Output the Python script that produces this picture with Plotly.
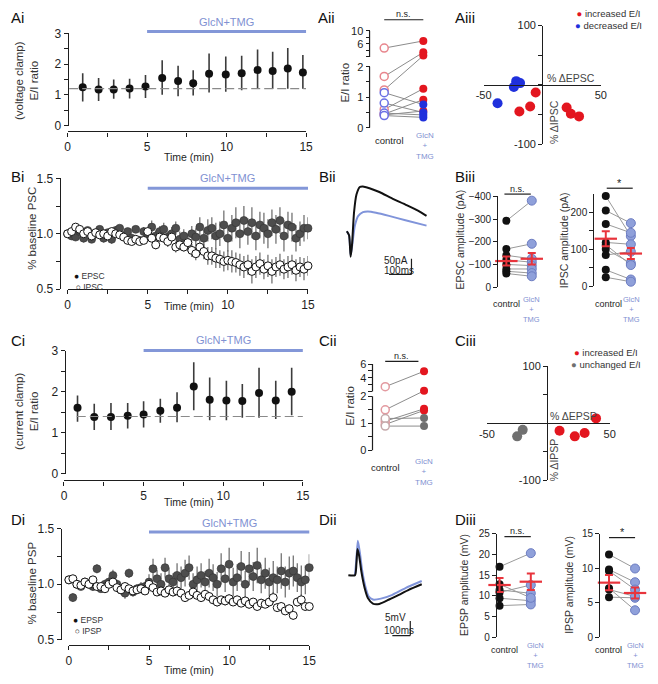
import plotly.graph_objects as go

# ---------------- data ----------------
# Ai / Ci : E/I ratio per minute (mean, upper and lower error ends)
ai_time = [0.95, 1.95, 2.9, 3.9, 4.9, 5.95, 6.95, 7.9, 8.9, 9.95, 10.95, 11.95, 12.9, 13.85, 14.8]
ai_ratio = [1.25, 1.17, 1.17, 1.21, 1.27, 1.55, 1.45, 1.38, 1.69, 1.66, 1.70, 1.81, 1.78, 1.86, 1.73]
ai_upper = [1.70, 1.55, 1.50, 1.52, 1.65, 2.13, 1.95, 1.80, 2.35, 2.25, 2.27, 2.48, 2.40, 2.53, 2.30]
ai_lower = [0.78, 0.80, 0.87, 0.88, 0.90, 1.00, 0.95, 0.98, 1.08, 1.10, 1.15, 1.20, 1.20, 1.20, 1.20]
ai_baseline = 1.2

ci_time = [0.85, 1.9, 2.95, 4.0, 5.0, 6.05, 7.1, 8.15, 9.15, 10.2, 11.2, 12.25, 13.3, 14.3, 15.3]
ci_ratio = [1.61, 1.39, 1.39, 1.42, 1.45, 1.54, 1.61, 2.13, 1.81, 1.79, 1.78, 1.97, 1.79, 2.00, 1.95]
ci_upper = [1.91, 1.71, 1.73, 1.73, 1.77, 1.83, 1.99, 2.72, 2.35, 2.27, 2.19, 2.59, 2.27, 2.59, 2.61]
ci_lower = [1.27, 1.07, 1.07, 1.11, 1.13, 1.25, 1.26, 1.55, 1.31, 1.31, 1.37, 1.37, 1.34, 1.43, 1.31]
ci_baseline = 1.4

# Aii / Cii : paired E/I ratios
aii_control = [4.7, 1.68, 1.24, 0.60, 0.45, 0.42, 1.15, 0.81, 0.48, 0.40]
aii_drug = [6.9, 3.4, 2.4, 1.28, 0.92, 0.55, 0.76, 0.50, 0.42, 0.34]
aii_group = ["inc", "inc", "inc", "inc", "inc", "inc", "dec", "dec", "dec", "dec"]

cii_control = [2.7, 1.5, 1.08, 0.96, 1.18, 0.90]
cii_drug = [4.95, 2.1, 1.54, 1.48, 1.20, 0.90]
cii_group = ["inc", "inc", "inc", "inc", "unch", "unch"]

# Aiii / Ciii : % change EPSC(P) vs IPSC(P)
aiii_inc_exc = [-5.6, -10.3, -19.5, 20.8, 24.4, 31.4]
aiii_inc_inh = [-12.9, -36.6, -44.9, -38.3, -48.8, -53.2]
aiii_dec_exc = [-22.2, -18.9, -24.2, -38.1]
aiii_dec_inh = [6.3, 3.0, -3.6, -31.1]

ciii_inc_exc = [38.9, 9.2, 21.6, 29.6]
ciii_inc_inh = [8.6, -13.2, -22.9, -17.1]
ciii_unch_exc = [-20.8, -25.3]
ciii_unch_inh = [-11.5, -22.9]

# Bi / Di : normalised PSC / PSP time courses
sweep_time = [0, 0.25, 0.5, 0.75, 1, 1.25, 1.5, 1.75,
              2, 2.25, 2.5, 2.75, 3, 3.25, 3.5, 3.75,
              4, 4.25, 4.5, 4.75, 5, 5.25, 5.5, 5.75,
              6, 6.25, 6.5, 6.75, 7, 7.25, 7.5, 7.75,
              8, 8.25, 8.5, 8.75, 9, 9.25, 9.5, 9.75,
              10, 10.25, 10.5, 10.75, 11, 11.25, 11.5, 11.75,
              12, 12.25, 12.5, 12.75, 13, 13.25, 13.5, 13.75,
              14, 14.25, 14.5, 14.75, 15]

epsc = [1.00, 0.98, 0.97, 1.02, 0.96, 1.03, 0.95, 1.00,
        1.04, 0.96, 1.01, 0.95, 1.03, 1.05, 0.98, 1.02,
        0.96, 1.04, 0.94, 1.02, 1.00, 1.06, 0.98, 1.02,
        1.04, 0.97, 1.00, 1.05, 0.95, 0.98, 0.92, 1.00,
        0.97, 1.06, 0.96, 1.03, 1.05, 0.98, 1.00, 1.08,
        0.96, 1.05, 1.10, 1.00, 1.12, 1.02, 1.10, 0.98,
        1.08, 1.05, 1.00, 1.10, 1.04, 1.12, 0.98, 1.08,
        1.06, 0.96, 1.00, 1.05, 1.05]
epsc_err = [0.02, 0.03, 0.03, 0.03, 0.04, 0.03, 0.03, 0.04,
            0.03, 0.04, 0.03, 0.04, 0.04, 0.03, 0.04, 0.03,
            0.04, 0.03, 0.04, 0.04, 0.05, 0.06, 0.05, 0.05,
            0.06, 0.05, 0.06, 0.06, 0.07, 0.06, 0.08, 0.07,
            0.08, 0.09, 0.08, 0.10, 0.10, 0.12, 0.11, 0.13,
            0.12, 0.12, 0.14, 0.13, 0.13, 0.12, 0.14, 0.13,
            0.12, 0.14, 0.13, 0.12, 0.13, 0.12, 0.14, 0.12,
            0.13, 0.12, 0.11, 0.12, 0.10]
ipsc = [1.00, 1.02, 1.06, 1.04, 1.00, 1.02, 0.98, 1.01,
        0.99, 1.00, 0.98, 1.02, 1.00, 0.99, 0.97, 0.94,
        0.93, 0.95, 0.93, 0.94, 1.02, 0.96, 0.90, 0.97,
        0.96, 0.93, 0.97, 0.88, 0.90, 0.88, 0.92, 0.85,
        0.82, 0.88, 0.84, 0.80, 0.80, 0.78, 0.77, 0.75,
        0.76, 0.75, 0.74, 0.72, 0.70, 0.72, 0.66, 0.70,
        0.73, 0.68, 0.71, 0.66, 0.70, 0.72, 0.68, 0.70,
        0.72, 0.67, 0.70, 0.68, 0.71]
ipsc_err = [0.02, 0.02, 0.03, 0.02, 0.02, 0.03, 0.02, 0.02,
            0.02, 0.03, 0.02, 0.03, 0.02, 0.03, 0.03, 0.02,
            0.03, 0.02, 0.03, 0.03, 0.04, 0.03, 0.04, 0.04,
            0.04, 0.05, 0.04, 0.05, 0.05, 0.04, 0.05, 0.06,
            0.06, 0.07, 0.07, 0.08, 0.08, 0.09, 0.08, 0.09,
            0.09, 0.10, 0.09, 0.10, 0.10, 0.09, 0.11, 0.10,
            0.10, 0.09, 0.10, 0.11, 0.09, 0.10, 0.09, 0.10,
            0.09, 0.10, 0.09, 0.10, 0.09]

epsp = [1.04, 0.88, 1.00, 0.98, 1.02, 1.00, 0.98, 1.14,
        0.96, 1.00, 1.02, 1.08, 1.00, 0.95, 0.92, 1.10,
        0.93, 0.96, 0.97, 0.98, 1.02, 1.14, 1.05, 1.00,
        1.15, 1.05, 1.02, 1.08, 1.06, 1.10, 1.15, 1.00,
        1.04, 1.08, 1.02, 1.10, 1.06, 1.00, 1.14, 1.05,
        1.18, 1.02, 1.06, 1.16, 1.00, 1.14, 1.07, 1.17,
        1.04, 1.10, 1.02, 1.06, 1.04, 1.12, 1.02, 1.10,
        1.12, 1.06, 1.02, 1.04, 1.15]
epsp_err = [0.03, 0.04, 0.03, 0.03, 0.04, 0.03, 0.04, 0.04,
            0.03, 0.04, 0.05, 0.05, 0.04, 0.04, 0.05, 0.04,
            0.04, 0.04, 0.05, 0.04, 0.07, 0.09, 0.08, 0.10,
            0.09, 0.10, 0.08, 0.11, 0.10, 0.12, 0.11, 0.10,
            0.12, 0.11, 0.10, 0.13, 0.12, 0.11, 0.14, 0.12,
            0.15, 0.13, 0.12, 0.14, 0.12, 0.15, 0.13, 0.16,
            0.12, 0.14, 0.13, 0.15, 0.12, 0.16, 0.14, 0.15,
            0.14, 0.13, 0.15, 0.13, 0.12]
ipsp = [1.04, 1.05, 1.00, 0.99, 1.02, 1.00, 1.04, 0.98,
        0.98, 0.96, 1.00, 1.02, 0.97, 0.95, 0.98, 0.96,
        0.94, 0.95, 0.96, 0.94, 1.00, 0.97, 0.93, 0.94,
        0.92, 0.95, 0.93, 0.94, 0.92, 0.88, 0.90, 0.93,
        0.90, 0.88, 0.91, 0.89, 0.86, 0.84, 0.86, 0.85,
        0.87, 0.84, 0.86, 0.83, 0.85, 0.82, 0.84, 0.80,
        0.83, 0.82, 0.84, 0.88, 0.79, 0.80, 0.76, 0.78,
        0.72, 0.84, 0.86, 0.80, 0.80]
ipsp_err = [0.02, 0.02, 0.03, 0.02, 0.02, 0.03, 0.02, 0.02,
            0.02, 0.03, 0.02, 0.03, 0.02, 0.03, 0.03, 0.02,
            0.03, 0.02, 0.03, 0.03, 0.03, 0.03, 0.02, 0.03,
            0.03, 0.03, 0.04, 0.03, 0.03, 0.04, 0.03, 0.03,
            0.03, 0.04, 0.03, 0.04, 0.03, 0.04, 0.03, 0.04,
            0.04, 0.03, 0.04, 0.03, 0.04, 0.04, 0.03, 0.04,
            0.04, 0.03, 0.04, 0.05, 0.04, 0.04, 0.03, 0.04,
            0.04, 0.04, 0.05, 0.04, 0.04]

# Bii / Dii : example traces
bii_ctrl_ms = [0, 10, 17, 23, 32, 43, 58, 72, 101, 145, 203, 261, 319, 355]
bii_ctrl_pa = [0, -13, -81, -45, 59, 117, 141, 143, 137, 125, 104, 85, 65, 49]
bii_drug_ms = [0, 10, 17, 23, 36, 51, 72, 94, 130, 188, 261, 355]
bii_drug_pa = [0, -13, -76, -50, 18, 49, 61, 63, 59, 49, 35, 18]

dii_ctrl_ms = [0, 37, 45, 51, 60, 73, 91, 109, 137, 173, 228, 282, 337, 410]
dii_ctrl_mv = [0, 0, 3.9, 8.9, 6.7, 1.1, -4.4, -7.8, -9.7, -9.8, -8.3, -6.7, -5.0, -3.1]
dii_drug_ms = [37, 45, 53, 64, 77, 95, 113, 137, 182, 246, 319, 410]
dii_drug_mv = [0, 5.6, 11.7, 7.8, 1.7, -3.9, -7.2, -8.3, -8.0, -6.7, -4.4, -2.0]

# Biii / Diii : paired amplitudes, mean and SEM
epsc_amp_ctrl = [-292, -168, -140, -120, -100, -80, -70, -60]
epsc_amp_drug = [-381, -191, -125, -110, -95, -80, -62, -48]
epsc_amp_mean = [-115, -125]
epsc_amp_sem = [20, 25]

ipsc_amp_ctrl = [243, 204, 168, 118, 100, 84, 112, 44, 24]
ipsc_amp_drug = [135, 170, 144, 113, 62, 93, 57, 18, 12]
ipsc_amp_mean = [128, 88]
ipsc_amp_sem = [20, 15]

epsp_amp_ctrl = [17.0, 11.4, 10.8, 9.4, 7.6, 12.8]
epsp_amp_drug = [20.3, 10.6, 12.6, 8.8, 7.9, 9.5]
epsp_amp_mean = [12.6, 13.4]
epsp_amp_sem = [1.7, 2.0]

ipsp_amp_ctrl = [12.0, 9.8, 9.6, 7.1, 5.8, 6.9]
ipsp_amp_drug = [9.95, 7.96, 6.9, 3.9, 5.7, 5.9]
ipsp_amp_mean = [7.9, 6.4]
ipsp_amp_sem = [1.1, 0.8]

# ---------------- styling helpers ----------------
W, H = 658, 684
FONT = "Arial, Liberation Sans, sans-serif"
BAR = "#8397d8"
TRT = "#7f91d2"
RED = "#e3161f"
MEAN_RED = "#e8343c"
AXC = "#1e1e1e"


def fx(p):
    return p / W


def fy(p):
    return 1 - p / H


def brk(v, start, k):
    # broken-axis mapping: linear below 2, compressed linear above
    return v if v <= 2 else start + (v - 2) * k


fig = go.Figure()
ann = []
shp = []


def text(x, y, s, size=10, color=AXC, angle=0, xanchor="center", xref="paper", yref="paper"):
    ann.append(dict(x=fx(x) if xref == "paper" else x, y=fy(y) if yref == "paper" else y,
                    xref=xref, yref=yref, text=s, showarrow=False, textangle=angle,
                    xanchor=xanchor, yanchor="middle", font=dict(size=size, color=color, family=FONT)))


def hline_px(x0, x1, y, color=AXC, width=1.2):
    shp.append(dict(type="line", xref="paper", yref="paper", x0=fx(x0), x1=fx(x1), y0=fy(y), y1=fy(y),
                    line=dict(color=color, width=width)))


def axis(dom, rng, **kw):
    d = dict(domain=dom, range=rng, showgrid=False, zeroline=False, showline=True, linecolor=AXC,
             linewidth=1.2, ticks="outside", ticklen=4, tickcolor=AXC, tickwidth=1.2,
             tickfont=dict(size=12, color=AXC, family=FONT))
    d.update(kw)
    return d


hidden = dict(visible=False, showgrid=False, zeroline=False)
time_ticks = dict(tickvals=[0, 2.5, 5, 7.5, 10, 12.5, 15], ticktext=["0", "", "5", "", "10", "", "15"])

L = {}
# Ai
L["xaxis"] = axis([fx(61), fx(305)], [0, 15], anchor="free", position=fy(127), **time_ticks)
L["yaxis"] = axis([fy(121), fy(27)], [0, 3], anchor="free", position=fx(61),
                  tickvals=[0, 0.5, 1, 1.5, 2, 2.5, 3], ticktext=["0", "", "1", "", "2", "", "3"])
# Aii (broken axis)
A_START, A_K, A_TOP = 2.32, 0.1067, 3.174
L["xaxis2"] = dict(domain=[fx(365), fx(445)], range=[-0.5, 1.5], anchor="y2", **hidden)
L["yaxis2"] = axis([fy(123.3), fy(24)], [0, A_TOP + 0.01], anchor="free", position=fx(370), showline=False,
                   tickvals=[0, 0.5, 1, 1.5, 2] + [brk(v, A_START, A_K) for v in [2.001, 4, 6, 8, 10]],
                   ticktext=["0", "", "1", "", "2", "", "", "6", "", "10"], tickfont=dict(size=11, color=AXC))
# Aiii
L["xaxis3"] = axis([fx(486.7), fx(606.7)], [-50, 50], anchor="free", position=fy(79.5), ticks="",
                   tickvals=[-50, 50], ticktext=["-50", "50"], tickfont=dict(size=11, color=AXC))
L["yaxis3"] = axis([fy(140), fy(19)], [-100, 100], anchor="free", position=fx(546.7),
                   tickvals=[-100, -50, 0, 50, 100], ticktext=["-100", "", "", "", "100"],
                   tickfont=dict(size=11, color=AXC))
# Bi
L["xaxis4"] = axis([fx(61), fx(307)], [0, 15], anchor="free", position=fy(288), **time_ticks)
L["yaxis4"] = axis([fy(288), fy(175)], [0.5, 1.5], anchor="free", position=fx(53),
                   tickvals=[0.5, 0.75, 1, 1.25, 1.5], ticktext=["0.5", "", "1.0", "", "1.5"])
# Bii
L["xaxis5"] = dict(domain=[fx(335), fx(440)], range=[-51, 406], anchor="y5", **hidden)
L["yaxis5"] = dict(domain=[fy(290), fy(170)], range=[-190.6, 184], anchor="x5", **hidden)
# Biii
small = dict(size=10, color=AXC)
L["xaxis6"] = dict(domain=[fx(497), fx(549)], range=[-0.5, 1.5], anchor="y6", **hidden)
L["yaxis6"] = axis([fy(286), fy(193.3)], [0, -400], anchor="free", position=fx(500.7),
                   tickvals=[0, -100, -200, -300, -400], tickfont=small)
L["xaxis7"] = dict(domain=[fx(598.9), fx(650.2)], range=[-0.5, 1.5], anchor="y7", **hidden)
L["yaxis7"] = axis([fy(285), fy(190.4)], [0, 250], anchor="free", position=fx(599),
                   tickvals=[0, 50, 100, 150, 200], ticktext=["0", "", "100", "", "200"], tickfont=small)
# Ci
L["xaxis8"] = axis([fx(57.3), fx(301.7)], [0, 15], anchor="free", position=fy(483.3), **time_ticks)
L["yaxis8"] = axis([fy(476.7), fy(351)], [0, 3], anchor="free", position=fx(58),
                   tickvals=[0, 0.5, 1, 1.5, 2, 2.5, 3], ticktext=["0", "", "1", "", "2", "", "3"])
# Cii (broken axis)
C_START, C_K, C_TOP = 2.18, 0.2527, 3.191
L["xaxis9"] = dict(domain=[fx(366.2), fx(445.6)], range=[-0.5, 1.5], anchor="y9", **hidden)
L["yaxis9"] = axis([fy(452.7), fy(364.3)], [0, C_TOP + 0.01], anchor="free", position=fx(373), showline=False,
                   tickvals=[0, 0.5, 1, 1.5, 2] + [brk(v, C_START, C_K) for v in [2.001, 3, 4, 5, 6]],
                   ticktext=["0", "", "1", "", "2", "", "", "4", "", "6"], tickfont=dict(size=11, color=AXC))
# Ciii
L["xaxis10"] = axis([fx(490), fx(615.7)], [-50, 50], anchor="free", position=fy(425), ticks="",
                    tickvals=[-50, 50], ticktext=["-50", "50"], tickfont=dict(size=11, color=AXC))
L["yaxis10"] = axis([fy(483.3), fy(366.7)], [-100, 100], anchor="free", position=fx(551.7),
                    tickvals=[-100, -50, 0, 50, 100], ticktext=["-100", "", "", "", "100"],
                    tickfont=dict(size=11, color=AXC))
# Di
L["xaxis11"] = axis([fx(62.3), fx(308.3)], [0, 15], anchor="free", position=fy(651.7), **time_ticks)
L["yaxis11"] = axis([fy(646), fy(532.7)], [0.5, 1.5], anchor="free", position=fx(54),
                    tickvals=[0.5, 0.75, 1, 1.25, 1.5], ticktext=["0.5", "", "1.0", "", "1.5"])
# Dii
L["xaxis12"] = dict(domain=[fx(335), fx(440)], range=[-72.6, 500.7], anchor="y12", **hidden)
L["yaxis12"] = dict(domain=[fy(660), fy(530)], range=[-26.7, 16.7], anchor="x12", **hidden)
# Diii
L["xaxis13"] = dict(domain=[fx(487), fx(551)], range=[-0.5, 1.5], anchor="y13", **hidden)
L["yaxis13"] = axis([fy(643.3), fy(537.7)], [0, 25], anchor="free", position=fx(499.3),
                    tickvals=[0, 5, 10, 15, 20, 25], tickfont=small)
L["xaxis14"] = dict(domain=[fx(601.7), fx(655)], range=[-0.5, 1.5], anchor="y14", **hidden)
L["yaxis14"] = axis([fy(643.3), fy(537.7)], [0, 15], anchor="free", position=fx(605),
                    tickvals=[0, 5, 10, 15], tickfont=small)


# ---------------- Ai / Ci ----------------
def ratio_panel(xa, ya, t, r, hi, lo, base, x_start, x_end):
    fig.add_trace(go.Scatter(x=t, y=r, xaxis=xa, yaxis=ya, mode="markers", cliponaxis=False,
                             marker=dict(size=8, color="#111"),
                             error_y=dict(type="data", symmetric=False,
                                          array=[h - m for h, m in zip(hi, r)],
                                          arrayminus=[m - l for m, l in zip(r, lo)],
                                          color="#3c3c3c", thickness=1.6, width=0)))
    shp.append(dict(type="line", xref=xa, yref=ya, x0=x_start, x1=x_end, y0=base, y1=base,
                    line=dict(color="#8a8a8a", width=1.2, dash="9px,4px")))


ratio_panel("x", "y", ai_time, ai_ratio, ai_upper, ai_lower, ai_baseline, 0.1, 15)
ratio_panel("x8", "y8", ci_time, ci_ratio, ci_upper, ci_lower, ci_baseline, 0.8, 15.3)

# drug bars
for xa, y_bar, y_txt in [("x", 25, 15), ("x4", 185, 175), ("x8", 350.7, 340), ("x11", 536, 526.7)]:
    shp.append(dict(type="line", xref=xa, yref="paper", x0=5, x1=15.1, y0=fy(y_bar), y1=fy(y_bar),
                    line=dict(color=BAR, width=3)))
    ann.append(dict(x=10, y=fy(y_txt), xref=xa, yref="paper", text="GlcN+TMG", showarrow=False,
                    xanchor="center", yanchor="middle", font=dict(size=11, color=TRT, family=FONT)))


# ---------------- Aii / Cii ----------------
def paired_ratio(xa, ya, ctrl, drug, group, start, k, open_cols, fill_cols, top, ypx_line):
    lx, ly = [], []
    for c, d in zip(ctrl, drug):
        lx += [0, 1, None]
        ly += [brk(c, start, k), brk(d, start, k), None]
    fig.add_trace(go.Scatter(x=lx, y=ly, xaxis=xa, yaxis=ya, mode="lines",
                             line=dict(color="#8c8c8c", width=1)))
    fig.add_trace(go.Scatter(x=[0] * len(ctrl), y=[brk(c, start, k) for c in ctrl], xaxis=xa, yaxis=ya,
                             mode="markers", cliponaxis=False,
                             marker=dict(size=8, color="white",
                                         line=dict(color=[open_cols[g] for g in group], width=1.5))))
    fig.add_trace(go.Scatter(x=[1] * len(drug), y=[brk(d, start, k) for d in drug], xaxis=xa, yaxis=ya,
                             mode="markers", cliponaxis=False,
                             marker=dict(size=8, color=[fill_cols[g] for g in group], line=dict(width=0))))
    for y0, y1 in [(0, 2), (start, top)]:
        shp.append(dict(type="line", xref="paper", yref=ya, x0=fx(ypx_line), x1=fx(ypx_line), y0=y0, y1=y1,
                        line=dict(color=AXC, width=1.2)))


paired_ratio("x2", "y2", aii_control, aii_drug, aii_group, A_START, A_K,
             {"inc": "#e8868d", "dec": "#6a70e4"}, {"inc": RED, "dec": "#1f30dc"}, A_TOP, 370)
paired_ratio("x9", "y9", cii_control, cii_drug, cii_group, C_START, C_K,
             {"inc": "#e39aa0", "unch": "#c4a9ab"}, {"inc": RED, "unch": "#6f6f6f"}, C_TOP, 373)

# ---------------- Aiii / Ciii ----------------
for xa, ya, gx, gy, col in [("x3", "y3", aiii_inc_exc, aiii_inc_inh, RED),
                            ("x3", "y3", aiii_dec_exc, aiii_dec_inh, "#1f30dc"),
                            ("x10", "y10", ciii_inc_exc, ciii_inc_inh, RED),
                            ("x10", "y10", ciii_unch_exc, ciii_unch_inh, "#707070")]:
    fig.add_trace(go.Scatter(x=gx, y=gy, xaxis=xa, yaxis=ya, mode="markers", cliponaxis=False,
                             marker=dict(size=10, color=col)))


# ---------------- Bi / Di ----------------
def timecourse(xa, ya, e, e_err, i, i_err):
    fig.add_trace(go.Scatter(x=sweep_time, y=e, xaxis=xa, yaxis=ya, mode="markers", cliponaxis=False,
                             marker=dict(size=8, color="#4d4d4d", line=dict(color="#333", width=0.6)),
                             error_y=dict(type="data", array=e_err, color="#5a5a5a", thickness=1.1, width=0)))
    fig.add_trace(go.Scatter(x=sweep_time, y=i, xaxis=xa, yaxis=ya, mode="markers", cliponaxis=False,
                             marker=dict(size=8, color="white", line=dict(color="#111", width=1)),
                             error_y=dict(type="data", array=i_err, color="#5a5a5a", thickness=1.1, width=0)))


timecourse("x4", "y4", epsc, epsc_err, ipsc, ipsc_err)
timecourse("x11", "y11", epsp, epsp_err, ipsp, ipsp_err)

# ---------------- Bii / Dii ----------------
fig.add_trace(go.Scatter(x=bii_drug_ms, y=bii_drug_pa, xaxis="x5", yaxis="y5", mode="lines",
                         line=dict(color="#8094da", width=2, shape="spline", smoothing=0.6)))
fig.add_trace(go.Scatter(x=bii_ctrl_ms, y=bii_ctrl_pa, xaxis="x5", yaxis="y5", mode="lines",
                         line=dict(color="#111", width=2, shape="spline", smoothing=0.6)))
fig.add_trace(go.Scatter(x=dii_drug_ms, y=dii_drug_mv, xaxis="x12", yaxis="y12", mode="lines",
                         line=dict(color="#8094da", width=2, shape="spline", smoothing=0.6)))
fig.add_trace(go.Scatter(x=dii_ctrl_ms, y=dii_ctrl_mv, xaxis="x12", yaxis="y12", mode="lines",
                         line=dict(color="#111", width=2, shape="spline", smoothing=0.6)))

# scale bars
for xa, ya, xv, y_top, y_bot, x_left, lab1, lab1_pos, lab2_pos in [
        ("x5", "y5", 288, -87.5, -137.5, 188, "50pA", (280, -92), (232, -124)),
        ("x12", "y12", 346, -15.6, -20.6, 245.7, "5mV", (336, -14.6), (282, -18.9))]:
    shp.append(dict(type="line", xref=xa, yref=ya, x0=xv, x1=xv, y0=y_top, y1=y_bot,
                    line=dict(color=AXC, width=1.2)))
    shp.append(dict(type="line", xref=xa, yref=ya, x0=x_left, x1=xv, y0=y_bot, y1=y_bot,
                    line=dict(color=AXC, width=1.2)))
    ann.append(dict(x=lab1_pos[0], y=lab1_pos[1], xref=xa, yref=ya, text=lab1, showarrow=False,
                    xanchor="right", yanchor="middle", font=dict(size=10, color=AXC, family=FONT)))
    ann.append(dict(x=lab2_pos[0], y=lab2_pos[1], xref=xa, yref=ya, text="100ms", showarrow=False,
                    xanchor="center", yanchor="middle", font=dict(size=10, color=AXC, family=FONT)))


# ---------------- Biii / Diii ----------------
def paired_amp(xa, ya, ctrl, drug, mean, sem):
    lx, ly = [], []
    for c, d in zip(ctrl, drug):
        lx += [0, 1, None]
        ly += [c, d, None]
    fig.add_trace(go.Scatter(x=lx, y=ly, xaxis=xa, yaxis=ya, mode="lines",
                             line=dict(color="#9a9a9a", width=1)))
    fig.add_trace(go.Scatter(x=[0] * len(ctrl), y=ctrl, xaxis=xa, yaxis=ya, mode="markers", cliponaxis=False,
                             marker=dict(size=8, color="#111")))
    fig.add_trace(go.Scatter(x=[1] * len(drug), y=drug, xaxis=xa, yaxis=ya, mode="markers", cliponaxis=False,
                             marker=dict(size=9, color="#8fa0da", line=dict(color="#6d7dc2", width=1))))
    fig.add_trace(go.Scatter(x=[0, 1], y=mean, xaxis=xa, yaxis=ya, mode="markers", cliponaxis=False,
                             marker=dict(symbol="line-ew", size=16, line=dict(color=MEAN_RED, width=2.2)),
                             error_y=dict(type="data", array=sem, color=MEAN_RED, thickness=2, width=4)))


paired_amp("x6", "y6", epsc_amp_ctrl, epsc_amp_drug, epsc_amp_mean, epsc_amp_sem)
paired_amp("x7", "y7", ipsc_amp_ctrl, ipsc_amp_drug, ipsc_amp_mean, ipsc_amp_sem)
paired_amp("x13", "y13", epsp_amp_ctrl, epsp_amp_drug, epsp_amp_mean, epsp_amp_sem)
paired_amp("x14", "y14", ipsp_amp_ctrl, ipsp_amp_drug, ipsp_amp_mean, ipsp_amp_sem)

# ---------------- significance brackets ----------------
for x0, x1, y, lab, ly in [(385, 425, 13, "n.s.", 7), (386, 420, 361.7, "n.s.", 356),
                           (508, 535, 191, "n.s.", 185.5), (612.7, 639.3, 185, "*", 180),
                           (508, 535, 540.7, "n.s.", 535), (615, 641.7, 541.7, "*", 536)]:
    hline_px(x0, x1, y)
    text((x0 + x1) / 2, ly, lab, size=9 if lab == "n.s." else 11)

# ---------------- category labels ----------------
for xc, xt, yc, yt, sz in [(390, 427, 136, 142, 9.5), (386, 425.7, 470, 475, 9.5),
                           (510, 536, 303, 309, 9), (614, 638, 303, 309, 9),
                           (508, 540, 656.7, 662, 9), (615, 641.7, 656.7, 662, 9)]:
    text(xc, yc, "control", size=sz)
    text(xt, yt, "GlcN<br>+<br>TMG", size=sz - 1.5, color=TRT)

# ---------------- axis titles ----------------
GT = "#333"
text(19, 75, "(voltage clamp)<br>E/I ratio", size=11.5, color=GT, angle=-90)
text(19, 413, "(current clamp)<br>E/I ratio", size=11.5, color=GT, angle=-90)
text(25, 226, "% baseline PSC", size=11.5, color=GT, angle=-90)
text(25, 588, "% baseline PSP", size=11.5, color=GT, angle=-90)
text(345, 77, "E/I ratio", size=11.5, color=GT, angle=-90)
text(350, 407, "E/I ratio", size=11.5, color=GT, angle=-90)
text(463, 237, "EPSC amplitude (pA)", size=10.5, color=GT, angle=-90)
text(569, 238, "IPSC amplitude (pA)", size=10.5, color=GT, angle=-90)
text(466.7, 590, "EPSP amplitude (mV)", size=10.5, color=GT, angle=-90)
text(574, 590, "IPSP amplitude (mV)", size=10.5, color=GT, angle=-90)
for yy in [153, 305, 505, 677]:
    text(185, yy, "Time (min)", size=10.5)
text(550, 72, "% ΔEPSC", size=10.5, color="#444", xanchor="left")
text(558, 117, "% ΔIPSC", size=10.5, color="#444", angle=-90)
text(553, 418, "% ΔEPSP", size=10.5, color="#444", xanchor="left")
text(558.5, 462, "% ΔIPSP", size=10.5, color="#444", angle=-90)


# ---------------- legends (one text block each) ----------------
def legend_block(x, y, rows, size):
    lines = ["<span style='color:%s'>%s</span> %s" % (col, dot, lab) for dot, col, lab in rows]
    text(x, y, "<br>".join(lines), size=size, color="#333", xanchor="left")


legend_block(578, 12.5, [("●", RED, "increased E/I"), ("●", "#1f30dc", "decreased E/I")], 9.5)
legend_block(574, 359, [("●", RED, "increased E/I"), ("●", "#707070", "unchanged E/I")], 9.5)
legend_block(65, 280.5, [("●", "#111", "EPSC"), ("○", "#111", "IPSC")], 8.5)
legend_block(64, 631, [("●", "#111", "EPSP"), ("○", "#111", "IPSP")], 8.5)

# ---------------- panel labels ----------------
for lab, x, y in [("Ai", 1, 11), ("Aii", 315, 11), ("Aiii", 455, 11),
                  ("Bi", 1, 173), ("Bii", 316, 173), ("Biii", 455, 173),
                  ("Ci", 1, 340), ("Cii", 316, 340), ("Ciii", 455, 340),
                  ("Di", 1, 523), ("Dii", 316, 523), ("Diii", 455, 523)]:
    text(x, y, lab, size=15, color="#111", xanchor="left")

fig.update_layout(width=W, height=H, margin=dict(l=0, r=0, t=0, b=0), paper_bgcolor="white",
                  plot_bgcolor="rgba(0,0,0,0)", showlegend=False, font=dict(family=FONT, color=AXC),
                  annotations=ann, shapes=shp, **L)
fig.write_html("out.html", config={"displayModeBar": False},
               post_script="document.documentElement.style.margin='0';document.body.style.margin='0';"
                           "document.body.style.padding='0';")
